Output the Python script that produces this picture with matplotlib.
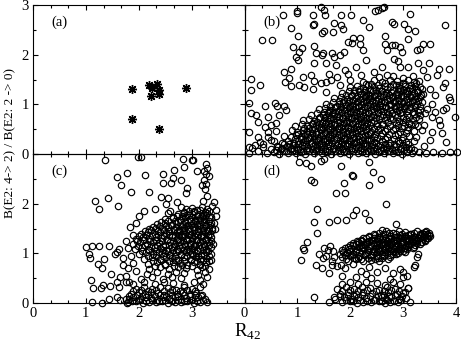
import matplotlib.pyplot as plt
from matplotlib.ticker import MultipleLocator, FixedLocator
import numpy as np

plt.rcParams['font.family'] = ['Liberation Serif', 'DejaVu Serif']
plt.rcParams['mathtext.fontset'] = 'custom'
plt.rcParams['mathtext.rm'] = 'Liberation Serif'

# panel (a): the few experimental points
a_x = [1.87, 1.87, 2.19, 2.25, 2.34, 2.38, 2.23, 2.38, 2.38, 2.89]
a_y = [1.31, 0.70, 1.39, 1.33, 1.41, 1.29, 1.17, 1.21, 0.50, 1.33]

# panel (b): scattered part
b_sparse = [
    (0.72, 2.79), (1.00, 2.87), (1.00, 2.83), (1.29, 2.79), (1.45, 2.95), (1.51, 2.90), (1.53, 2.79),
    (1.82, 2.80), (2.01, 2.80), (1.70, 2.64), (1.82, 2.60), (1.86, 2.51), (1.29, 2.60), (1.31, 2.62),
    (0.87, 2.54), (1.51, 2.48), (1.47, 2.43), (1.68, 2.45), (0.33, 2.30), (0.52, 2.30), (1.01, 2.38),
    (1.95, 2.26), (2.04, 2.24), (0.91, 2.16), (1.08, 2.14), (1.04, 2.05), (1.31, 2.18), (1.35, 2.03),
    (1.48, 2.04), (1.47, 2.00), (1.65, 2.03), (1.69, 1.95), (1.81, 1.99), (1.89, 2.06), (1.31, 1.83),
    (1.54, 1.84), (1.01, 1.89), (0.98, 1.95), (1.73, 1.79), (0.13, 1.52), (0.13, 1.29), (0.30, 1.39),
    (0.88, 1.72), (0.75, 1.66), (0.84, 1.54), (1.10, 1.56), (1.26, 1.59), (0.77, 1.44), (0.88, 1.36),
    (1.04, 1.39), (1.13, 1.34), (1.32, 1.46), (1.45, 1.42), (1.64, 1.48), (1.29, 1.30), (1.54, 1.25),
    (0.08, 1.02), (0.38, 0.97), (0.57, 1.02), (0.62, 0.97), (0.74, 0.97), (0.13, 0.82), (0.22, 0.79),
    (0.25, 0.65), (0.44, 0.75), (0.66, 0.79), (0.79, 0.89), (0.38, 0.55), (0.50, 0.58), (0.60, 0.62),
    (0.09, 0.45), (0.25, 0.35), (0.44, 0.45), (0.08, 0.15), (0.19, 0.18), (0.35, 0.21), (0.50, 0.28),
    (0.63, 0.15),
    (2.47, 2.87), (2.53, 2.90), (2.60, 2.93), (2.63, 2.95), (3.13, 2.82), (2.25, 2.70), (2.35, 2.55),
    (2.79, 2.66), (2.82, 2.62), (3.01, 2.62), (3.10, 2.51), (3.23, 2.48), (3.79, 2.60), (2.66, 2.38),
    (2.66, 2.21), (2.69, 2.09), (2.79, 2.19), (2.85, 2.19), (2.94, 2.16), (2.97, 2.06), (3.10, 2.32),
    (3.26, 2.09), (3.32, 2.12), (3.38, 2.21), (3.51, 2.21), (2.19, 2.21), (2.25, 2.09), (2.06, 2.33),
    (2.19, 2.33), (2.82, 1.91), (2.91, 1.87), (2.94, 1.76), (3.10, 1.76), (3.29, 1.84), (3.48, 1.84),
    (3.38, 1.69), (3.67, 1.72), (3.87, 1.72), (3.64, 1.59), (3.79, 1.42), (3.75, 1.35), (3.60, 1.19),
    (3.86, 1.15), (3.89, 1.09), (3.82, 0.92), (3.76, 0.89), (3.98, 0.75), (3.54, 0.75), (3.67, 0.68),
    (3.70, 0.58), (3.54, 0.45), (3.73, 0.42), (3.82, 0.25), (3.51, 0.28), (4.01, 0.05), (3.89, 0.05),
    (3.73, 0.03), (3.57, 0.05),
    (2.10, 1.75), (2.30, 1.90), (2.45, 1.65), (2.20, 1.60), (1.95, 1.62), (2.60, 1.75), (2.70, 1.60),
    (2.00, 1.48), (1.80, 1.38), (3.45, 1.55), (3.50, 1.30), (3.55, 1.00), (3.45, 0.90), (3.60, 0.85),
    (1.60, 1.62), (1.75, 1.55), (1.90, 1.70), (1.55, 1.45),
]

# panel (b): dense part
b_dense = [
    (0.08, 0.03), (0.25, 0.06), (0.42, 0.02), (0.55, 0.05), (0.66, 0.01), (0.74, 0.06), (0.83, 0.03),
    (0.90, 0.07), (0.98, 0.02), (1.07, 0.05), (1.15, 0.01), (1.22, 0.06), (1.31, 0.03), (1.40, 0.07),
    (1.47, 0.02), (1.56, 0.04), (1.63, 0.01), (1.72, 0.06), (1.80, 0.03), (1.88, 0.05), (1.97, 0.01),
    (2.05, 0.06), (2.14, 0.02), (2.22, 0.05), (2.30, 0.03), (2.39, 0.07), (2.47, 0.01), (2.55, 0.04),
    (2.64, 0.02), (2.72, 0.06), (2.80, 0.03), (2.90, 0.05), (2.98, 0.01), (3.07, 0.04), (3.16, 0.02),
    (3.30, 0.05), (3.43, 0.03),
    (0.15, 0.12), (0.35, 0.15), (0.50, 0.11), (0.62, 0.16), (0.71, 0.13), (0.80, 0.17), (0.88, 0.12),
    (0.97, 0.15), (1.05, 0.11), (1.13, 0.16), (1.20, 0.13), (1.29, 0.17), (1.37, 0.12), (1.45, 0.14),
    (1.53, 0.11), (1.61, 0.16), (1.70, 0.13), (1.78, 0.15), (1.86, 0.11), (1.94, 0.17), (2.03, 0.12),
    (2.11, 0.15), (2.20, 0.13), (2.28, 0.16), (2.37, 0.11), (2.45, 0.14), (2.53, 0.17), (2.62, 0.12),
    (2.70, 0.15), (2.79, 0.11), (2.87, 0.16), (2.96, 0.13), (3.05, 0.15), (3.15, 0.12), (3.40, 0.16),
    (0.30, 0.24), (0.55, 0.27), (0.70, 0.23), (0.82, 0.26), (0.93, 0.22), (1.02, 0.27), (1.10, 0.24),
    (1.18, 0.28), (1.27, 0.23), (1.35, 0.26), (1.44, 0.22), (1.52, 0.27), (1.60, 0.24), (1.69, 0.28),
    (1.77, 0.23), (1.85, 0.25), (1.93, 0.22), (2.02, 0.27), (2.10, 0.24), (2.19, 0.26), (2.27, 0.23),
    (2.36, 0.28), (2.44, 0.24), (2.60, 0.26), (2.75, 0.23), (2.90, 0.27), (3.05, 0.24), (3.20, 0.26),
    (0.45, 0.35), (0.75, 0.37), (0.88, 0.34), (0.97, 0.38), (1.06, 0.35), (1.14, 0.39), (1.23, 0.34),
    (1.31, 0.37), (1.40, 0.33), (1.48, 0.38), (1.57, 0.35), (1.65, 0.39), (1.74, 0.34), (1.82, 0.36),
    (1.90, 0.33), (1.99, 0.38), (2.07, 0.35), (2.16, 0.37), (2.24, 0.34), (2.33, 0.39), (2.45, 0.35),
    (2.58, 0.37), (2.70, 0.34), (2.85, 0.38), (3.00, 0.35), (3.12, 0.37), (3.25, 0.34),
    (0.60, 0.46), (0.90, 0.48), (1.00, 0.45), (1.10, 0.49), (1.19, 0.46), (1.28, 0.50), (1.36, 0.45),
    (1.45, 0.48), (1.53, 0.44), (1.62, 0.49), (1.70, 0.46), (1.79, 0.50), (1.87, 0.45), (1.96, 0.47),
    (2.04, 0.44), (2.13, 0.49), (2.21, 0.46), (2.30, 0.48), (2.40, 0.45), (2.52, 0.49), (2.66, 0.46),
    (2.80, 0.48), (2.95, 0.45), (3.08, 0.49), (3.20, 0.46), (3.35, 0.48),
    (0.95, 0.57), (1.08, 0.60), (1.18, 0.56), (1.27, 0.61), (1.36, 0.58), (1.44, 0.55), (1.53, 0.60),
    (1.61, 0.57), (1.70, 0.61), (1.78, 0.56), (1.87, 0.59), (1.95, 0.55), (2.04, 0.60), (2.12, 0.57),
    (2.21, 0.61), (2.30, 0.56), (2.38, 0.59), (2.50, 0.57), (2.62, 0.60), (2.76, 0.56), (2.90, 0.59),
    (3.02, 0.57), (3.15, 0.60), (3.28, 0.56), (3.40, 0.59),
    (1.10, 0.68), (1.22, 0.71), (1.32, 0.67), (1.41, 0.72), (1.50, 0.69), (1.58, 0.66), (1.67, 0.71),
    (1.75, 0.68), (1.84, 0.72), (1.92, 0.67), (2.01, 0.70), (2.09, 0.66), (2.18, 0.71), (2.26, 0.68),
    (2.35, 0.72), (2.44, 0.67), (2.55, 0.70), (2.66, 0.68), (2.80, 0.71), (2.93, 0.67), (3.05, 0.70),
    (3.18, 0.68), (3.30, 0.71),
    (1.25, 0.79), (1.38, 0.82), (1.48, 0.78), (1.57, 0.83), (1.66, 0.80), (1.74, 0.77), (1.83, 0.82),
    (1.91, 0.79), (2.00, 0.83), (2.08, 0.78), (2.17, 0.81), (2.25, 0.77), (2.34, 0.82), (2.43, 0.79),
    (2.52, 0.83), (2.62, 0.78), (2.72, 0.81), (2.84, 0.79), (2.95, 0.82), (3.08, 0.78), (3.20, 0.81),
    (3.32, 0.79), (3.42, 0.82),
    (1.40, 0.90), (1.52, 0.93), (1.62, 0.89), (1.71, 0.94), (1.80, 0.91), (1.88, 0.88), (1.97, 0.93),
    (2.05, 0.90), (2.14, 0.94), (2.22, 0.89), (2.31, 0.92), (2.40, 0.88), (2.48, 0.93), (2.57, 0.90),
    (2.66, 0.94), (2.75, 0.89), (2.84, 0.92), (2.93, 0.88), (3.02, 0.93), (3.12, 0.90), (3.22, 0.94),
    (3.32, 0.89),
    (1.55, 1.01), (1.68, 1.04), (1.78, 1.00), (1.87, 1.05), (1.96, 1.02), (2.04, 0.99), (2.13, 1.04),
    (2.21, 1.01), (2.30, 1.05), (2.38, 1.00), (2.47, 1.03), (2.56, 0.99), (2.64, 1.04), (2.73, 1.01),
    (2.82, 1.05), (2.90, 1.00), (2.99, 1.03), (3.08, 0.99), (3.17, 1.04), (3.26, 1.01), (3.35, 1.05),
    (1.70, 1.12), (1.83, 1.15), (1.93, 1.11), (2.02, 1.16), (2.11, 1.13), (2.19, 1.10), (2.28, 1.15),
    (2.36, 1.12), (2.45, 1.16), (2.53, 1.11), (2.62, 1.14), (2.70, 1.10), (2.79, 1.15), (2.88, 1.12),
    (2.96, 1.16), (3.05, 1.11), (3.14, 1.14), (3.23, 1.10), (3.32, 1.15),
    (1.85, 1.23), (1.98, 1.26), (2.08, 1.22), (2.17, 1.27), (2.26, 1.24), (2.34, 1.21), (2.43, 1.26),
    (2.51, 1.23), (2.60, 1.27), (2.68, 1.22), (2.77, 1.25), (2.86, 1.21), (2.94, 1.26), (3.03, 1.23),
    (3.12, 1.27), (3.20, 1.22), (3.29, 1.25), (3.38, 1.21),
    (2.00, 1.34), (2.13, 1.37), (2.24, 1.33), (2.34, 1.38), (2.44, 1.35), (2.55, 1.32), (2.66, 1.37),
    (2.76, 1.34), (2.86, 1.38), (2.95, 1.33), (3.04, 1.36), (3.13, 1.32), (3.22, 1.37), (3.31, 1.34),
    (2.25, 1.45), (2.45, 1.48), (2.60, 1.44), (2.75, 1.49), (2.88, 1.46), (3.00, 1.43), (3.10, 1.48),
    (3.20, 1.45), (3.30, 1.47),
    (2.55, 1.55), (2.80, 1.58), (3.00, 1.54), (3.18, 1.57),
]

# panel (b): core of the dense part, between the rows above
b_core = [
    (0.60, 0.09), (0.69, 0.10), (0.78, 0.07), (0.87, 0.11), (0.94, 0.08), (1.02, 0.10), (1.11, 0.07),
    (1.19, 0.09), (1.27, 0.11), (1.35, 0.08), (1.44, 0.10), (1.52, 0.07), (1.60, 0.09), (1.68, 0.11),
    (1.76, 0.08), (1.84, 0.10), (1.92, 0.07), (2.01, 0.09), (2.09, 0.11), (2.18, 0.08), (2.26, 0.10),
    (2.34, 0.07), (2.43, 0.09), (2.51, 0.11), (2.59, 0.08), (2.68, 0.10), (2.76, 0.07), (2.85, 0.09),
    (2.94, 0.11), (3.02, 0.08), (3.11, 0.10), (3.20, 0.08),
    (0.75, 0.20), (0.84, 0.21), (0.92, 0.19), (1.01, 0.21), (1.09, 0.18), (1.17, 0.20), (1.25, 0.22),
    (1.33, 0.19), (1.41, 0.21), (1.49, 0.18), (1.57, 0.20), (1.65, 0.22), (1.74, 0.19), (1.82, 0.21),
    (1.90, 0.18), (1.98, 0.20), (2.07, 0.22), (2.15, 0.19), (2.24, 0.21), (2.32, 0.18), (2.41, 0.20),
    (2.49, 0.22), (2.57, 0.19), (2.66, 0.21), (2.74, 0.18), (2.83, 0.20), (2.92, 0.22), (3.00, 0.19),
    (3.10, 0.21),
    (0.95, 0.30), (1.06, 0.31), (1.14, 0.29), (1.22, 0.32), (1.31, 0.30), (1.39, 0.28), (1.48, 0.31),
    (1.56, 0.29), (1.64, 0.32), (1.73, 0.30), (1.81, 0.28), (1.89, 0.31), (1.97, 0.29), (2.06, 0.32),
    (2.14, 0.30), (2.23, 0.28), (2.31, 0.31), (2.40, 0.29), (2.50, 0.32), (2.66, 0.30), (2.82, 0.31),
    (2.97, 0.29),
    (1.02, 0.41), (1.10, 0.42), (1.18, 0.40), (1.27, 0.43), (1.35, 0.41), (1.44, 0.39), (1.52, 0.42),
    (1.61, 0.40), (1.69, 0.43), (1.78, 0.41), (1.86, 0.39), (1.94, 0.42), (2.03, 0.40), (2.11, 0.43),
    (2.20, 0.41), (2.28, 0.39), (2.37, 0.42), (2.47, 0.40), (2.60, 0.43), (2.74, 0.41), (2.90, 0.40),
    (3.05, 0.42),
    (1.12, 0.52), (1.22, 0.53), (1.31, 0.51), (1.40, 0.54), (1.49, 0.52), (1.57, 0.50), (1.66, 0.53),
    (1.74, 0.51), (1.83, 0.54), (1.91, 0.52), (2.00, 0.50), (2.08, 0.53), (2.17, 0.51), (2.25, 0.54),
    (2.34, 0.52), (2.44, 0.50), (2.56, 0.53), (2.70, 0.51), (2.84, 0.53), (2.98, 0.52), (3.10, 0.54),
    (1.30, 0.63), (1.37, 0.64), (1.46, 0.62), (1.54, 0.65), (1.63, 0.63), (1.71, 0.61), (1.80, 0.64),
    (1.88, 0.62), (1.97, 0.65), (2.05, 0.63), (2.14, 0.61), (2.22, 0.64), (2.31, 0.62), (2.40, 0.65),
    (2.50, 0.63), (2.60, 0.61), (2.72, 0.64), (2.86, 0.62), (3.00, 0.64), (3.12, 0.63), (3.22, 0.61),
    (1.42, 0.74), (1.53, 0.75), (1.62, 0.73), (1.70, 0.76), (1.79, 0.74), (1.87, 0.72), (1.96, 0.75),
    (2.04, 0.73), (2.13, 0.76), (2.21, 0.74), (2.30, 0.72), (2.39, 0.75), (2.48, 0.73), (2.57, 0.76),
    (2.67, 0.74), (2.76, 0.72), (2.88, 0.75), (3.00, 0.73), (3.12, 0.75), (3.25, 0.74),
    (1.50, 0.85), (1.60, 0.86), (1.67, 0.84), (1.76, 0.87), (1.85, 0.85), (1.93, 0.83), (2.02, 0.86),
    (2.10, 0.84), (2.19, 0.87), (2.27, 0.85), (2.36, 0.83), (2.45, 0.86), (2.53, 0.84), (2.62, 0.87),
    (2.70, 0.85), (2.79, 0.83), (2.88, 0.86), (2.98, 0.84), (3.08, 0.87), (3.18, 0.85), (3.28, 0.84),
    (1.62, 0.96), (1.75, 0.97), (1.83, 0.95), (1.92, 0.98), (2.00, 0.96), (2.09, 0.94), (2.17, 0.97),
    (2.26, 0.95), (2.34, 0.98), (2.43, 0.96), (2.51, 0.94), (2.60, 0.97), (2.68, 0.95), (2.77, 0.98),
    (2.86, 0.96), (2.95, 0.94), (3.04, 0.97), (3.13, 0.95), (3.22, 0.98), (3.31, 0.96),
    (1.78, 1.07), (1.88, 1.08), (1.97, 1.06), (2.06, 1.09), (2.15, 1.07), (2.24, 1.05), (2.32, 1.08),
    (2.41, 1.06), (2.49, 1.09), (2.58, 1.07), (2.66, 1.05), (2.75, 1.08), (2.84, 1.06), (2.92, 1.09),
    (3.01, 1.07), (3.10, 1.05), (3.19, 1.08), (3.28, 1.06),
    (1.92, 1.18), (2.03, 1.19), (2.12, 1.17), (2.21, 1.20), (2.30, 1.18), (2.38, 1.16), (2.47, 1.19),
    (2.56, 1.17), (2.64, 1.20), (2.73, 1.18), (2.81, 1.16), (2.90, 1.19), (2.99, 1.17), (3.08, 1.20),
    (3.16, 1.18), (3.25, 1.16), (3.34, 1.19),
    (2.08, 1.29), (2.18, 1.30), (2.28, 1.28), (2.38, 1.31), (2.48, 1.29), (2.59, 1.27), (2.70, 1.30),
    (2.80, 1.28), (2.90, 1.31), (2.99, 1.29), (3.08, 1.27), (3.17, 1.30), (3.26, 1.28), (3.35, 1.31),
    (2.30, 1.40), (2.40, 1.41), (2.52, 1.39), (2.66, 1.42), (2.80, 1.40), (2.92, 1.38), (3.03, 1.41),
    (3.15, 1.39), (3.25, 1.42),
]

# panel (c)
c_sparse = [
    (1.36, 2.88), (1.77, 2.62), (1.59, 2.53), (1.67, 2.37), (1.86, 2.24), (1.18, 2.05), (1.25, 1.89),
    (1.41, 2.11), (1.61, 1.95), (1.00, 1.13), (1.12, 1.15), (1.25, 1.15), (1.43, 1.15), (1.06, 0.99),
    (1.07, 0.90), (1.63, 1.08), (1.56, 0.99), (1.59, 1.02), (1.34, 0.88), (1.23, 0.78), (1.30, 0.70),
    (1.48, 0.58), (1.70, 0.76), (1.83, 1.54), (1.89, 1.37), (1.09, 0.46), (1.13, 0.31), (1.29, 0.31),
    (1.33, 0.36), (1.45, 0.34), (1.59, 0.43), (1.65, 0.52), (1.62, 0.32), (1.75, 0.54), (1.75, 0.43),
    (1.82, 0.43), (1.11, 0.03), (1.30, 0.01), (1.43, 0.08), (1.58, 0.13), (1.65, 0.06), (1.78, 0.01),
    (1.82, 0.09),
    (1.99, 2.94), (2.11, 2.58), (2.45, 2.60), (2.45, 2.41), (2.61, 2.42), (2.64, 2.51), (2.66, 2.68),
    (2.83, 2.89), (2.86, 2.74), (3.02, 2.88), (3.10, 2.66), (3.27, 2.80), (3.24, 2.65), (2.80, 2.47),
    (2.19, 2.24), (2.42, 2.14), (2.56, 2.11), (2.52, 2.00), (2.73, 2.04), (2.92, 2.31), (2.90, 2.22),
    (3.24, 2.47), (3.27, 2.40), (2.05, 2.94), (3.00, 2.88),
    (3.22, 2.05), (3.30, 2.15), (3.25, 2.30), (3.32, 2.55), (3.28, 2.60), (3.30, 2.72), (3.20, 2.38),
    (3.42, 2.04), (3.46, 1.87), (3.47, 1.75), (3.42, 1.62), (3.45, 1.50), (3.38, 1.95),
    (2.00, 1.75), (2.10, 1.85), (1.95, 1.62), (2.30, 1.90), (2.60, 1.85), (1.75, 1.25), (1.80, 1.10),
    (1.85, 0.95), (1.70, 0.90), (1.90, 0.80), (1.95, 0.65), (1.80, 0.70),
]

c_dense = [
    (2.90, 1.89), (3.00, 1.92), (3.10, 1.88), (3.20, 1.93), (3.30, 1.90), (2.80, 1.93),
    (2.75, 1.79), (2.85, 1.82), (2.95, 1.78), (3.05, 1.83), (3.13, 1.80), (3.22, 1.77), (3.30, 1.82),
    (2.55, 1.81),
    (2.50, 1.69), (2.65, 1.72), (2.78, 1.68), (2.88, 1.73), (2.97, 1.70), (3.06, 1.67), (3.15, 1.72),
    (3.24, 1.69), (3.33, 1.73),
    (2.35, 1.59), (2.50, 1.62), (2.62, 1.58), (2.74, 1.63), (2.84, 1.60), (2.93, 1.57), (3.02, 1.62),
    (3.10, 1.59), (3.19, 1.63), (3.28, 1.58), (3.36, 1.61),
    (2.20, 1.49), (2.32, 1.52), (2.45, 1.48), (2.56, 1.53), (2.66, 1.50), (2.76, 1.47), (2.85, 1.52),
    (2.94, 1.49), (3.03, 1.53), (3.12, 1.48), (3.21, 1.51), (3.30, 1.47), (3.38, 1.52),
    (2.05, 1.39), (2.18, 1.42), (2.30, 1.38), (2.41, 1.43), (2.52, 1.40), (2.62, 1.37), (2.72, 1.42),
    (2.81, 1.39), (2.90, 1.43), (2.99, 1.38), (3.08, 1.41), (3.17, 1.37), (3.26, 1.42), (3.35, 1.39),
    (1.95, 1.29), (2.08, 1.32), (2.20, 1.28), (2.32, 1.33), (2.43, 1.30), (2.53, 1.27), (2.63, 1.32),
    (2.73, 1.29), (2.82, 1.33), (2.91, 1.28), (3.00, 1.31), (3.09, 1.27), (3.18, 1.32), (3.27, 1.29),
    (3.36, 1.33),
    (1.90, 1.19), (2.03, 1.22), (2.15, 1.18), (2.27, 1.23), (2.38, 1.20), (2.49, 1.17), (2.59, 1.22),
    (2.69, 1.19), (2.78, 1.23), (2.88, 1.18), (2.97, 1.21), (3.06, 1.17), (3.15, 1.22), (3.24, 1.19),
    (3.33, 1.23), (3.40, 1.18),
    (1.92, 1.09), (2.06, 1.12), (2.18, 1.08), (2.30, 1.13), (2.41, 1.10), (2.52, 1.07), (2.62, 1.12),
    (2.72, 1.09), (2.82, 1.13), (2.92, 1.08), (3.01, 1.11), (3.10, 1.07), (3.19, 1.12), (3.28, 1.09),
    (3.37, 1.13),
    (2.00, 0.99), (2.14, 1.02), (2.27, 0.98), (2.39, 1.03), (2.50, 1.00), (2.60, 0.97), (2.70, 1.02),
    (2.80, 0.99), (2.90, 1.03), (3.00, 0.98), (3.09, 1.01), (3.18, 0.97), (3.27, 1.02), (3.36, 0.99),
    (2.10, 0.89), (2.25, 0.92), (2.40, 0.88), (2.52, 0.93), (2.63, 0.90), (2.74, 0.87), (2.86, 0.92),
    (2.98, 0.89), (3.08, 0.93), (3.18, 0.88), (3.28, 0.91), (3.36, 0.87),
    (2.18, 0.79), (2.35, 0.82), (2.50, 0.78), (2.64, 0.83), (2.78, 0.80), (2.92, 0.77), (3.05, 0.82),
    (3.16, 0.79), (3.27, 0.83),
    (2.20, 0.69), (2.40, 0.72), (2.58, 0.68), (2.74, 0.73), (2.90, 0.70), (3.10, 0.67), (3.20, 0.72),
    (3.32, 0.69),
    (2.15, 0.59), (2.35, 0.62), (2.55, 0.58), (2.70, 0.63), (2.85, 0.60), (3.12, 0.57), (3.25, 0.62),
    (2.05, 0.49), (2.25, 0.52), (2.45, 0.48), (2.62, 0.53), (2.80, 0.50), (3.15, 0.47), (3.30, 0.52),
    (1.90, 0.39), (2.10, 0.42), (2.30, 0.38), (2.48, 0.43), (2.65, 0.40), (2.85, 0.37), (3.05, 0.42),
    (3.22, 0.39),
    (1.95, 0.29), (2.10, 0.32), (2.25, 0.28), (2.40, 0.33), (2.55, 0.30), (2.70, 0.27), (2.85, 0.32),
    (3.00, 0.29), (3.15, 0.33),
    (1.85, 0.19), (2.00, 0.22), (2.12, 0.18), (2.24, 0.23), (2.36, 0.20), (2.48, 0.17), (2.60, 0.22),
    (2.72, 0.19), (2.84, 0.23), (2.96, 0.18), (3.08, 0.21), (3.20, 0.17),
    (1.75, 0.09), (1.90, 0.12), (2.02, 0.08), (2.13, 0.13), (2.24, 0.10), (2.35, 0.07), (2.46, 0.12),
    (2.57, 0.09), (2.68, 0.13), (2.79, 0.08), (2.90, 0.11), (3.01, 0.07), (3.12, 0.12), (3.25, 0.09),
    (1.80, 0.02), (1.95, 0.04), (2.08, 0.01), (2.20, 0.03), (2.32, 0.02), (2.44, 0.05), (2.56, 0.01),
    (2.68, 0.03), (2.80, 0.02), (2.92, 0.04), (3.04, 0.01), (3.16, 0.03), (3.30, 0.02),
]

c_core = [
    (2.85, 1.84), (2.95, 1.86), (3.05, 1.85), (3.15, 1.87), (3.25, 1.84), (3.33, 1.86),
    (2.65, 1.74), (2.72, 1.76), (2.82, 1.75), (2.92, 1.77), (3.01, 1.74), (3.10, 1.76), (3.19, 1.75),
    (3.28, 1.77), (3.36, 1.74),
    (2.42, 1.64), (2.56, 1.66), (2.68, 1.65), (2.79, 1.67), (2.88, 1.64), (2.98, 1.66), (3.06, 1.65),
    (3.15, 1.67), (3.24, 1.64), (3.32, 1.66),
    (2.27, 1.54), (2.40, 1.56), (2.51, 1.55), (2.61, 1.57), (2.71, 1.54), (2.80, 1.56), (2.89, 1.55),
    (2.98, 1.57), (3.07, 1.54), (3.16, 1.56), (3.25, 1.55), (3.34, 1.57),
    (2.12, 1.44), (2.24, 1.46), (2.36, 1.45), (2.47, 1.47), (2.57, 1.44), (2.67, 1.46), (2.76, 1.45),
    (2.86, 1.47), (2.95, 1.44), (3.04, 1.46), (3.13, 1.45), (3.22, 1.47), (3.31, 1.44), (3.39, 1.46),
    (2.00, 1.34), (2.13, 1.36), (2.25, 1.35), (2.36, 1.37), (2.47, 1.34), (2.58, 1.36), (2.68, 1.35),
    (2.77, 1.37), (2.86, 1.34), (2.95, 1.36), (3.04, 1.35), (3.13, 1.37), (3.22, 1.34), (3.31, 1.36),
    (1.96, 1.24), (2.09, 1.26), (2.21, 1.25), (2.33, 1.27), (2.44, 1.24), (2.54, 1.26), (2.64, 1.25),
    (2.74, 1.27), (2.83, 1.24), (2.92, 1.26), (3.01, 1.25), (3.10, 1.27), (3.19, 1.24), (3.28, 1.26),
    (3.37, 1.25),
    (1.98, 1.14), (2.11, 1.16), (2.24, 1.15), (2.35, 1.17), (2.46, 1.14), (2.57, 1.16), (2.67, 1.15),
    (2.77, 1.17), (2.87, 1.14), (2.96, 1.16), (3.05, 1.15), (3.14, 1.17), (3.23, 1.14), (3.32, 1.16),
    (2.07, 1.04), (2.20, 1.06), (2.33, 1.05), (2.45, 1.07), (2.55, 1.04), (2.65, 1.06), (2.75, 1.05),
    (2.85, 1.07), (2.95, 1.04), (3.04, 1.06), (3.13, 1.05), (3.22, 1.07), (3.31, 1.04),
    (2.17, 0.94), (2.32, 0.96), (2.46, 0.95), (2.58, 0.97), (2.69, 0.94), (2.80, 0.96), (2.92, 0.95),
    (3.03, 0.97), (3.13, 0.94), (3.23, 0.96), (3.32, 0.95),
    (2.27, 0.84), (2.43, 0.86), (2.57, 0.85), (2.71, 0.87), (2.85, 0.84), (2.98, 0.86), (3.10, 0.85),
    (3.22, 0.87), (3.32, 0.84),
    (2.30, 0.74), (2.49, 0.76), (2.66, 0.75), (2.82, 0.77), (3.00, 0.74), (3.15, 0.76), (3.26, 0.75),
    (1.87, 0.05), (2.01, 0.06), (2.14, 0.04), (2.26, 0.07), (2.38, 0.05), (2.50, 0.06), (2.62, 0.04),
    (2.74, 0.07), (2.86, 0.05), (2.98, 0.06), (3.10, 0.04), (3.22, 0.06),
    (1.82, 0.15), (1.96, 0.16), (2.07, 0.14), (2.18, 0.17), (2.30, 0.15), (2.41, 0.16), (2.52, 0.14),
    (2.63, 0.17), (2.74, 0.15), (2.85, 0.16), (2.96, 0.14), (3.06, 0.17), (3.18, 0.15),
    (1.90, 0.25), (2.04, 0.26), (2.18, 0.24), (2.32, 0.27), (2.47, 0.25), (2.62, 0.26), (2.78, 0.24),
    (2.92, 0.27), (3.07, 0.25),
]

# panel (d)
d_sparse = [
    (1.04, 2.84), (1.16, 2.81), (1.26, 2.76), (1.45, 2.86), (1.51, 2.90), (1.82, 2.76), (2.04, 2.58),
    (1.25, 2.47), (1.31, 2.44), (1.89, 2.42), (1.73, 2.22), (1.91, 2.22), (1.37, 1.90), (1.32, 1.64),
    (1.37, 1.40), (1.60, 1.64), (1.75, 1.68), (1.92, 1.67), (2.05, 1.78), (1.19, 1.23), (1.13, 1.07),
    (1.10, 1.10), (1.07, 0.87), (1.40, 0.99), (1.51, 1.10), (1.57, 1.07), (1.48, 0.90), (1.35, 0.76),
    (1.46, 0.70), (1.60, 0.61), (1.66, 0.76), (1.82, 0.76), (1.32, 0.13), (1.60, 0.03), (1.70, 0.13),
    (2.35, 2.84), (2.43, 2.64), (2.58, 2.49), (2.36, 2.37), (2.06, 2.56), (2.68, 1.99), (2.11, 1.87),
    (2.28, 1.82), (2.35, 1.68), (2.87, 1.59), (2.60, 1.47),
    (3.23, 0.76), (3.20, 0.73), (3.26, 0.93), (3.29, 0.99), (3.00, 0.53), (3.07, 0.54), (3.10, 0.30),
    (3.04, 0.23), (3.13, 0.03),
    (1.62, 1.15), (1.68, 1.05), (1.55, 0.95), (1.70, 0.92), (1.65, 0.85),
    (3.45, 1.38), (3.50, 1.34), (3.47, 1.30), (3.42, 1.42),
]

d_dense = [
    (2.55, 1.41), (2.68, 1.44), (2.80, 1.40), (2.92, 1.45), (3.04, 1.42), (3.15, 1.39), (3.26, 1.44),
    (3.36, 1.41), (3.44, 1.45),
    (2.35, 1.34), (2.46, 1.37), (2.56, 1.33), (2.66, 1.38), (2.76, 1.35), (2.86, 1.32), (2.95, 1.37),
    (3.04, 1.34), (3.13, 1.38), (3.22, 1.33), (3.31, 1.36), (3.40, 1.32), (3.48, 1.37),
    (2.20, 1.27), (2.30, 1.30), (2.40, 1.26), (2.50, 1.31), (2.60, 1.28), (2.69, 1.25), (2.78, 1.30),
    (2.87, 1.27), (2.96, 1.31), (3.05, 1.26), (3.14, 1.29), (3.23, 1.25), (3.32, 1.30), (3.42, 1.27),
    (2.05, 1.20), (2.15, 1.23), (2.25, 1.19), (2.35, 1.24), (2.45, 1.21), (2.55, 1.18), (2.64, 1.23),
    (2.73, 1.20), (2.82, 1.24), (2.91, 1.19), (3.00, 1.22), (3.09, 1.18), (3.18, 1.23), (3.27, 1.20),
    (3.36, 1.23),
    (1.95, 1.13), (2.06, 1.16), (2.17, 1.12), (2.28, 1.17), (2.38, 1.14), (2.48, 1.11), (2.58, 1.16),
    (2.67, 1.13), (2.76, 1.17), (2.85, 1.12), (2.94, 1.15), (3.03, 1.11), (3.12, 1.16), (3.20, 1.13),
    (1.85, 1.06), (1.98, 1.09), (2.10, 1.05), (2.22, 1.10), (2.33, 1.07), (2.43, 1.04), (2.53, 1.09),
    (2.63, 1.06), (2.72, 1.10), (2.81, 1.05), (2.90, 1.08), (2.99, 1.04), (3.08, 1.09),
    (1.80, 0.99), (1.93, 1.02), (2.05, 0.98), (2.17, 1.03), (2.29, 1.00), (2.40, 0.97), (2.50, 1.02),
    (2.60, 0.99), (2.70, 1.03), (2.80, 0.98), (2.90, 1.01),
    (1.85, 0.92), (2.00, 0.95), (2.14, 0.91), (2.27, 0.96), (2.40, 0.93), (2.52, 0.90), (2.64, 0.95),
    (2.76, 0.92),
    (1.95, 0.85), (2.10, 0.88), (2.25, 0.84), (2.40, 0.87), (2.55, 0.85),
    (1.75, 0.75), (1.90, 0.70), (2.05, 0.78), (2.20, 0.65), (2.35, 0.72), (2.50, 0.62), (2.65, 0.70),
    (2.80, 0.60), (2.95, 0.68), (1.85, 0.55), (2.10, 0.52), (2.40, 0.50), (2.75, 0.48), (3.00, 0.62),
    (2.30, 0.58),
    (1.85, 0.39), (2.00, 0.42), (2.15, 0.38), (2.30, 0.43), (2.50, 0.40), (2.65, 0.37), (2.80, 0.42),
    (2.95, 0.39),
    (1.75, 0.29), (1.92, 0.32), (2.08, 0.28), (2.22, 0.33), (2.38, 0.30), (2.55, 0.27), (2.70, 0.32),
    (2.85, 0.29), (3.10, 0.31),
    (1.80, 0.19), (1.95, 0.22), (2.10, 0.18), (2.25, 0.23), (2.42, 0.20), (2.58, 0.17), (2.72, 0.22),
    (2.88, 0.19), (3.00, 0.21),
    (1.72, 0.09), (1.88, 0.12), (2.02, 0.08), (2.15, 0.13), (2.30, 0.10), (2.45, 0.07), (2.60, 0.12),
    (2.68, 0.09), (2.78, 0.13), (2.92, 0.08), (3.05, 0.11),
    (1.85, 0.02), (2.00, 0.04), (2.12, 0.01), (2.25, 0.03), (2.40, 0.02), (2.55, 0.04), (2.65, 0.01),
    (2.75, 0.03), (2.90, 0.02),
]

d_core = [
    (2.45, 1.39), (2.61, 1.38), (2.74, 1.40), (2.86, 1.38), (2.98, 1.39), (3.10, 1.37), (3.20, 1.40),
    (3.31, 1.38), (3.40, 1.39), (3.48, 1.40),
    (2.25, 1.31), (2.35, 1.32), (2.45, 1.30), (2.55, 1.32), (2.65, 1.31), (2.74, 1.30), (2.83, 1.33),
    (2.92, 1.31), (3.01, 1.32), (3.10, 1.30), (3.19, 1.32), (3.28, 1.31), (3.37, 1.33), (3.46, 1.31),
    (2.12, 1.24), (2.22, 1.25), (2.32, 1.23), (2.42, 1.26), (2.52, 1.24), (2.62, 1.23), (2.71, 1.25),
    (2.80, 1.24), (2.89, 1.26), (2.98, 1.23), (3.07, 1.25), (3.16, 1.24), (3.25, 1.26), (3.34, 1.23),
    (3.42, 1.25),
    (2.00, 1.17), (2.10, 1.18), (2.20, 1.16), (2.30, 1.19), (2.40, 1.17), (2.50, 1.16), (2.60, 1.18),
    (2.69, 1.17), (2.78, 1.19), (2.87, 1.16), (2.96, 1.18), (3.05, 1.17), (3.14, 1.19), (3.23, 1.16),
    (3.31, 1.18),
    (1.90, 1.10), (2.02, 1.11), (2.13, 1.09), (2.24, 1.12), (2.35, 1.10), (2.45, 1.09), (2.55, 1.11),
    (2.65, 1.10), (2.74, 1.12), (2.83, 1.09), (2.92, 1.11), (3.01, 1.10), (3.10, 1.12), (3.18, 1.10),
    (1.86, 1.03), (1.99, 1.04), (2.11, 1.02), (2.23, 1.05), (2.34, 1.03), (2.45, 1.02), (2.55, 1.04),
    (2.65, 1.03), (2.75, 1.05), (2.85, 1.02), (2.95, 1.04), (3.04, 1.03),
    (1.90, 0.96), (2.03, 0.97), (2.16, 0.95), (2.28, 0.98), (2.40, 0.96), (2.52, 0.95), (2.64, 0.97),
    (2.76, 0.96), (2.86, 0.98),
    (1.92, 0.89), (2.07, 0.90), (2.21, 0.88), (2.34, 0.91), (2.47, 0.89), (2.60, 0.90), (2.72, 0.88),
    (1.92, 0.06), (2.06, 0.05), (2.18, 0.07), (2.32, 0.05), (2.47, 0.06), (2.60, 0.04), (2.70, 0.07),
    (2.82, 0.05), (2.96, 0.06),
    (1.80, 0.15), (1.95, 0.16), (2.08, 0.14), (2.22, 0.17), (2.37, 0.15), (2.52, 0.14), (2.64, 0.16),
    (2.73, 0.15), (2.85, 0.17), (2.98, 0.15),
    (1.85, 0.25), (2.00, 0.26), (2.15, 0.24), (2.32, 0.27), (2.48, 0.25), (2.64, 0.24), (2.78, 0.26),
    (2.93, 0.25),
]

panel_labels = ['(a)', '(b)', '(c)', '(d)']
xticks = [0, 1, 2, 3, 4]
yticks = [0, 1, 2, 3]

fig = plt.figure(figsize=(4.61, 3.44), dpi=100)
gs = fig.add_gridspec(2, 2, left=33/461, right=456/461, top=1-5/344, bottom=1-303/344,
                      hspace=0, wspace=0)
ax_a = fig.add_subplot(gs[0, 0])
ax_b = fig.add_subplot(gs[0, 1])
ax_c = fig.add_subplot(gs[1, 0])
ax_d = fig.add_subplot(gs[1, 1])
axs = [ax_a, ax_b, ax_c, ax_d]

circ = dict(ls='none', marker='o', mfc='none', mec='k', ms=4.6, mew=0.85, clip_on=False)

ax_a.plot(a_x, a_y, ls='none', marker=(8, 2, 0), ms=6.5, mew=1.0, color='k', clip_on=False)
panels = [(ax_b, [b_sparse, b_dense, b_core]),
          (ax_c, [c_sparse, c_dense, c_core]),
          (ax_d, [d_sparse, d_dense, d_core])]
for ax, sets in panels:
    for pts in sets:
        px, py = np.array(pts).T
        ax.plot(px, py, **circ)

for ax, lab in zip(axs, panel_labels):
    ax.set_facecolor('none')
    ax.set_xlim(0, 4)
    ax.set_ylim(0, 3)
    ax.xaxis.set_major_locator(FixedLocator(xticks))
    ax.yaxis.set_major_locator(FixedLocator(yticks))
    ax.xaxis.set_minor_locator(MultipleLocator(1/3))
    ax.yaxis.set_minor_locator(MultipleLocator(0.5))
    ax.tick_params(which='both', direction='in', top=True, right=True, width=0.8,
                   labelsize=10.5, pad=3)
    ax.tick_params(which='major', length=3.5)
    ax.tick_params(which='minor', length=2.5)
    for s in ax.spines.values():
        s.set_linewidth(0.8)
    ax.text(0.35, 2.65, lab, fontsize=10.5, va='center', ha='left')

ax_a.tick_params(labelbottom=False)
ax_b.tick_params(labelbottom=False, labelleft=False)
ax_d.tick_params(labelleft=False)
ax_c.set_yticks(yticks)
ax_c.set_yticklabels(['0', '1', '2', ''])
ax_c.set_xticks(xticks)
ax_c.set_xticklabels(['0', '1', '2', '3', ''])

fig.text(10/461, 1-143.5/344, 'B(E2: 4-> 2) / B(E2: 2 -> 0)', rotation=90,
         ha='center', va='center', fontsize=9.5)
fig.text(234/461, 7/344, r'R$_{\mathrm{42}}$', ha='left', va='baseline', fontsize=13.5)

fig.savefig('out.png', dpi=100)
